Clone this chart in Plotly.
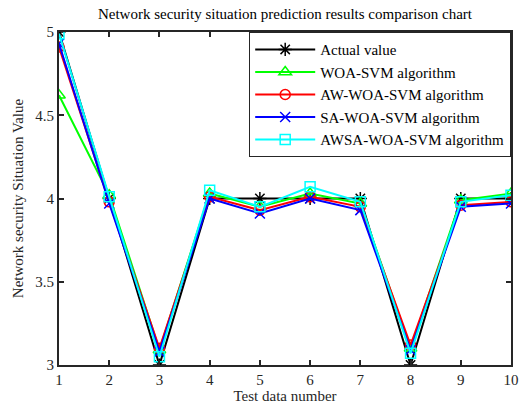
import plotly.graph_objects as go

test_no = [1, 2, 3, 4, 5, 6, 7, 8, 9, 10]
actual = [5.00, 4.00, 3.00, 4.00, 4.00, 4.00, 4.00, 3.00, 4.00, 4.00]
woa = [4.62, 4.02, 3.09, 4.03, 3.95, 4.03, 3.97, 3.10, 3.99, 4.03]
aw_woa = [4.91, 3.98, 3.10, 4.01, 3.93, 4.01, 3.95, 3.12, 3.96, 3.98]
sa_woa = [4.93, 3.97, 3.08, 4.00, 3.91, 4.00, 3.93, 3.09, 3.95, 3.97]
awsa_woa = [4.99, 4.01, 3.05, 4.05, 3.95, 4.07, 3.98, 3.07, 3.98, 4.02]

series = [
    ("Actual value", actual, "black", "asterisk-open", 11),
    ("WOA-SVM algorithm", woa, "#00ff00", "triangle-up-open", 11),
    ("AW-WOA-SVM algorithm", aw_woa, "red", "circle-open", 10),
    ("SA-WOA-SVM algorithm", sa_woa, "blue", "x-thin-open", 10),
    ("AWSA-WOA-SVM algorithm", awsa_woa, "cyan", "square-open", 10),
]

fig = go.Figure()
for name, vals, color, sym, sz in series:
    fig.add_trace(go.Scatter(
        x=test_no, y=vals, name=name, mode="lines+markers",
        line=dict(color=color, width=2),
        marker=dict(symbol=sym, size=sz, color=color, line=dict(color=color, width=1.5)),
    ))

font = "Liberation Serif, Times New Roman, serif"
axis_common = dict(
    showline=True, linecolor="#262626", linewidth=2, mirror="ticks",
    ticks="inside", ticklen=5, tickwidth=1.5, tickcolor="#262626",
    showgrid=False, zeroline=False,
    tickfont=dict(family=font, size=15, color="#262626"),
)
fig.update_layout(
    width=531, height=414,
    margin=dict(l=59, r=14, t=32, b=47),
    paper_bgcolor="white", plot_bgcolor="white",
    title=dict(text="Network security situation prediction results comparison chart",
               x=0.5, xref="paper", y=0.966, yref="container", yanchor="middle",
               font=dict(family=font, size=15, color="black")),
    xaxis=dict(range=[1, 10], tickvals=test_no,
               title=dict(text="Test data number", font=dict(family=font, size=15, color="#262626"), standoff=3),
               **axis_common),
    yaxis=dict(range=[3, 5], tickvals=[3, 3.5, 4, 4.5, 5], ticktext=["3", "3.5", "4", "4.5", "5"],
               title=dict(text="Network security Situation Value", font=dict(family=font, size=15, color="#262626"), standoff=8),
               **axis_common),
    legend=dict(x=1, y=1, xanchor="right", yanchor="top",
                bgcolor="white", bordercolor="#262626", borderwidth=1.2,
                font=dict(family=font, size=15, color="black"),
                tracegroupgap=0, itemwidth=60),
    showlegend=True,
)

fig.write_html(
    "out.html",
    config={"displayModeBar": False},
    post_script="document.body.style.margin='0';document.body.style.overflow='hidden';",
)
